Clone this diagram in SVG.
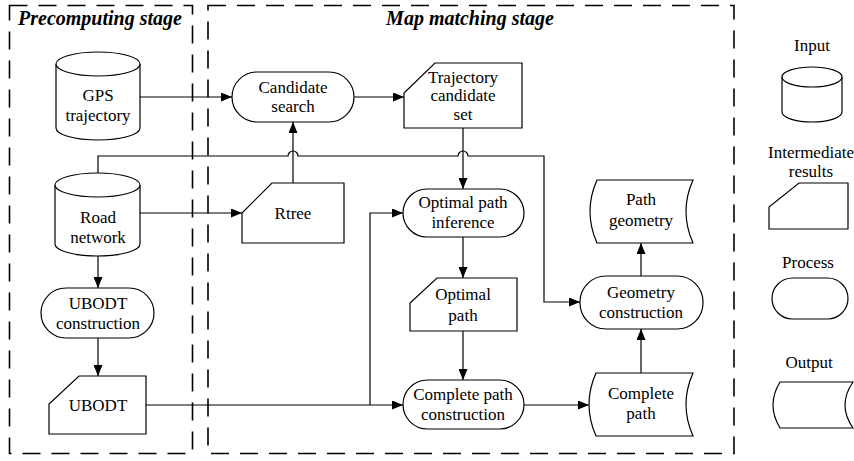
<svg xmlns="http://www.w3.org/2000/svg" width="854" height="461" viewBox="0 0 854 461">
<defs>
<marker id="ah" markerUnits="userSpaceOnUse" markerWidth="11" markerHeight="9" refX="11" refY="4.5" orient="auto">
<path d="M0,0 L11,4.5 L0,9 Z" fill="#000"/>
</marker>
</defs>
<rect fill="#fff" x="0" y="0" width="854" height="461"/>

<g fill="none" stroke="#000" stroke-width="1.6" stroke-dasharray="18 11">
<rect id="precomputing-frame" x="9.5" y="5.5" width="183" height="448"/>
<rect id="map-matching-frame" x="208" y="5.5" width="526" height="448"/>
</g>
<g font-family="Liberation Serif" font-size="20" font-weight="bold" font-style="italic" text-anchor="middle" fill="#000">
<text id="precomputing-stage" x="100" y="25">Precomputing stage</text>
<text id="map-matching-stage" x="470" y="25">Map matching stage</text>
</g>

<g id="connectors" fill="none" stroke="#000" stroke-width="1.2" marker-end="url(#ah)">
<path d="M140,97 H232"/>
<path d="M354,97 H404"/>
<path d="M140,213 H242"/>
<path d="M293,183 V122"/>
<path d="M463,128 V189"/>
<path d="M98,173 V156 H288 A5,5 0 0 1 298,156 H458 A5,5 0 0 1 468,156 H544 V302 H580"/>
<path d="M98,256 V288"/>
<path d="M98,338 V376"/>
<path d="M146,405 H403"/>
<path d="M370,405 V213 H403"/>
<path d="M463,237 V278"/>
<path d="M463,331 V380"/>
<path d="M524,405 H589"/>
<path d="M641,373 V329"/>
<path d="M641,276 V243"/>
</g>

<g id="nodes" fill="#fff" stroke="#000" stroke-width="1.2">
<g id="gps-trajectory">
<path d="M56,64 V128 A42,12 0 0 0 140,128 V64"/>
<ellipse cx="98" cy="64" rx="42" ry="12"/>
</g>
<g id="candidate-search"><rect x="232" y="72" width="122" height="50" rx="25" ry="25"/></g>
<g id="trajectory-candidate-set"><path d="M435,63 H522 V128 H404 V93 Z"/></g>
<g id="road-network">
<path d="M55,185 V244 A42.5,12 0 0 0 140,244 V185"/>
<ellipse cx="97.5" cy="185" rx="42.5" ry="12"/>
</g>
<g id="rtree"><path d="M272,183 H344 V243 H242 V213 Z"/></g>
<g id="ubodt-construction"><rect x="41" y="288" width="113" height="50" rx="25" ry="25"/></g>
<g id="ubodt"><path d="M79,376 H146 V434 H49 V404 Z"/></g>
<g id="optimal-path-inference"><rect x="403" y="189" width="121" height="48" rx="24" ry="24"/></g>
<g id="optimal-path"><path d="M437,278 H517 V331 H410 V303 Z"/></g>
<g id="complete-path-construction"><rect x="403" y="380" width="121" height="49" rx="24.5" ry="24.5"/></g>
<g id="complete-path"><path d="M596,373 H693 Q679,404.5 693,436 H596 Q582,404.5 596,373 Z"/></g>
<g id="geometry-construction"><rect x="580" y="276" width="123" height="53" rx="26" ry="26"/></g>
<g id="path-geometry"><path d="M597,180 H693 Q679,211.5 693,243 H597 Q583,211.5 597,180 Z"/></g>
<g id="legend-input">
<path d="M782,77 V112 A30,10 0 0 0 842,112 V77"/>
<ellipse cx="812" cy="77" rx="30" ry="10"/>
</g>
<g id="legend-intermediate"><path d="M799,183 H848 V229 H769 V207 Z"/></g>
<g id="legend-process"><rect x="772" y="278" width="76" height="41" rx="20.5" ry="20.5"/></g>
<g id="legend-output"><path d="M780,382 H853 Q837,405 853,428 H780 Q766,405 780,382 Z"/></g>
</g>

<g id="labels" font-family="Liberation Serif" font-size="17" text-anchor="middle" fill="#000">
<text x="98" y="101">GPS</text>
<text x="98" y="121">trajectory</text>
<text x="293" y="93">Candidate</text>
<text x="293" y="112">search</text>
<text x="463" y="83">Trajectory</text>
<text x="463" y="101">candidate</text>
<text x="463" y="120">set</text>
<text x="98" y="223">Road</text>
<text x="98" y="243">network</text>
<text x="293" y="219">Rtree</text>
<text x="98" y="309">UBODT</text>
<text x="98" y="329">construction</text>
<text x="98" y="411">UBODT</text>
<text x="463" y="208">Optimal path</text>
<text x="463" y="228">inference</text>
<text x="463" y="300">Optimal</text>
<text x="463" y="321">path</text>
<text x="463" y="400">Complete path</text>
<text x="463" y="420">construction</text>
<text x="641" y="399">Complete</text>
<text x="641" y="419">path</text>
<text x="641" y="298">Geometry</text>
<text x="641" y="318">construction</text>
<text x="641" y="205">Path</text>
<text x="641" y="226">geometry</text>
<text x="812" y="51">Input</text>
<text x="811" y="158">Intermediate</text>
<text x="811" y="177">results</text>
<text x="808" y="268">Process</text>
<text x="809" y="368">Output</text>
</g>
</svg>
